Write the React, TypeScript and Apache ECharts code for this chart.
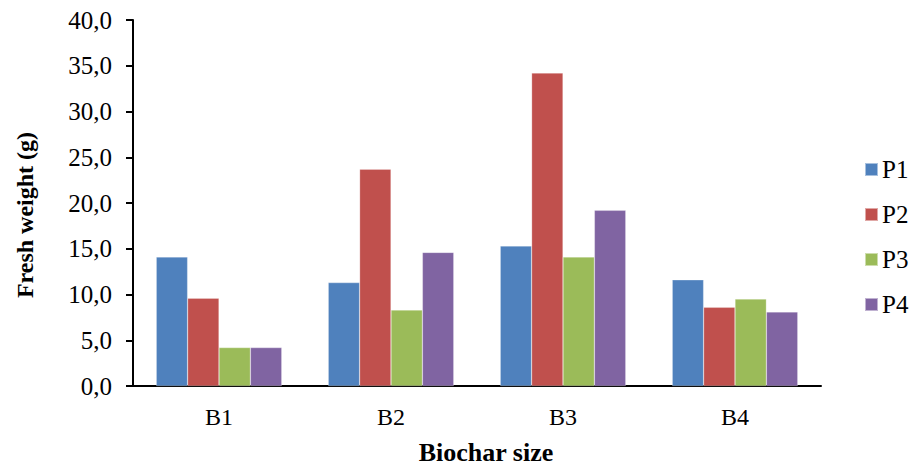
import React, { useEffect, useRef } from "react";
import * as echarts from "echarts";

const categories = ["B1", "B2", "B3", "B4"];
const seriesNames = ["P1", "P2", "P3", "P4"];
const p1 = [14.1, 11.3, 15.3, 11.6];
const p2 = [9.6, 23.7, 34.2, 8.6];
const p3 = [4.2, 8.3, 14.1, 9.5];
const p4 = [4.2, 14.6, 19.2, 8.1];
const colors = ["#4F81BD", "#C0504D", "#9BBB59", "#8064A2"];

const FONT = "'Liberation Serif', 'Times New Roman', serif";

export default function App() {
  const ref = useRef<HTMLDivElement>(null);
  useEffect(() => {
    document.body.style.margin = "0";
    if (!ref.current) return;
    const chart = echarts.init(ref.current, undefined, { renderer: "svg" });
    const values = [p1, p2, p3, p4];
    chart.setOption({
      animation: false,
      backgroundColor: "#ffffff",
      textStyle: { fontFamily: FONT },
      grid: { left: 133, right: 90, top: 20, bottom: 81, containLabel: false },
      legend: {
        orient: "vertical",
        left: 864,
        top: 157,
        itemWidth: 13,
        itemHeight: 13,
        itemGap: 20,
        icon: "rect",
        padding: 0,
        textStyle: { fontFamily: FONT, fontSize: 25, color: "#000", lineHeight: 25, padding: [0, 0, 0, -1] },
        data: seriesNames,
      },
      xAxis: {
        type: "category",
        data: categories,
        axisLine: { lineStyle: { color: "#000", width: 2 } },
        axisTick: { show: false },
        axisLabel: { color: "#000", fontSize: 24, fontFamily: FONT, margin: 19 },
      },
      yAxis: {
        type: "value",
        min: 0,
        max: 40,
        interval: 5,
        axisLine: { show: true, lineStyle: { color: "#000", width: 2 } },
        axisTick: { show: true, length: 7, lineStyle: { color: "#000", width: 2 } },
        splitLine: { show: false },
        axisLabel: {
          color: "#000",
          fontSize: 25,
          fontFamily: FONT,
          margin: 21,
          formatter: (v: number) => v.toFixed(1).replace(".", ","),
        },
      },
      graphic: [
        {
          type: "text",
          x: 25,
          y: 215,
          rotation: Math.PI / 2,
          style: {
            text: "Fresh weight (g)",
            fontFamily: FONT,
            fontSize: 24,
            fontWeight: "bold",
            fill: "#000",
            textAlign: "center",
            textVerticalAlign: "middle",
          },
        },
        {
          type: "text",
          x: 486,
          y: 452,
          style: {
            text: "Biochar size",
            fontFamily: FONT,
            fontSize: 26,
            fontWeight: "bold",
            fill: "#000",
            textAlign: "center",
            textVerticalAlign: "middle",
          },
        },
      ],
      series: seriesNames.map((name, i) => ({
        name,
        type: "bar",
        data: values[i],
        barGap: "0%",
        barCategoryGap: "27%",
        itemStyle: { color: colors[i], borderColor: "rgba(255,255,255,0.5)", borderWidth: 0.5 },
      })),
    });
    return () => chart.dispose();
  }, []);
  return <div ref={ref} style={{ width: 911, height: 467 }} />;
}
